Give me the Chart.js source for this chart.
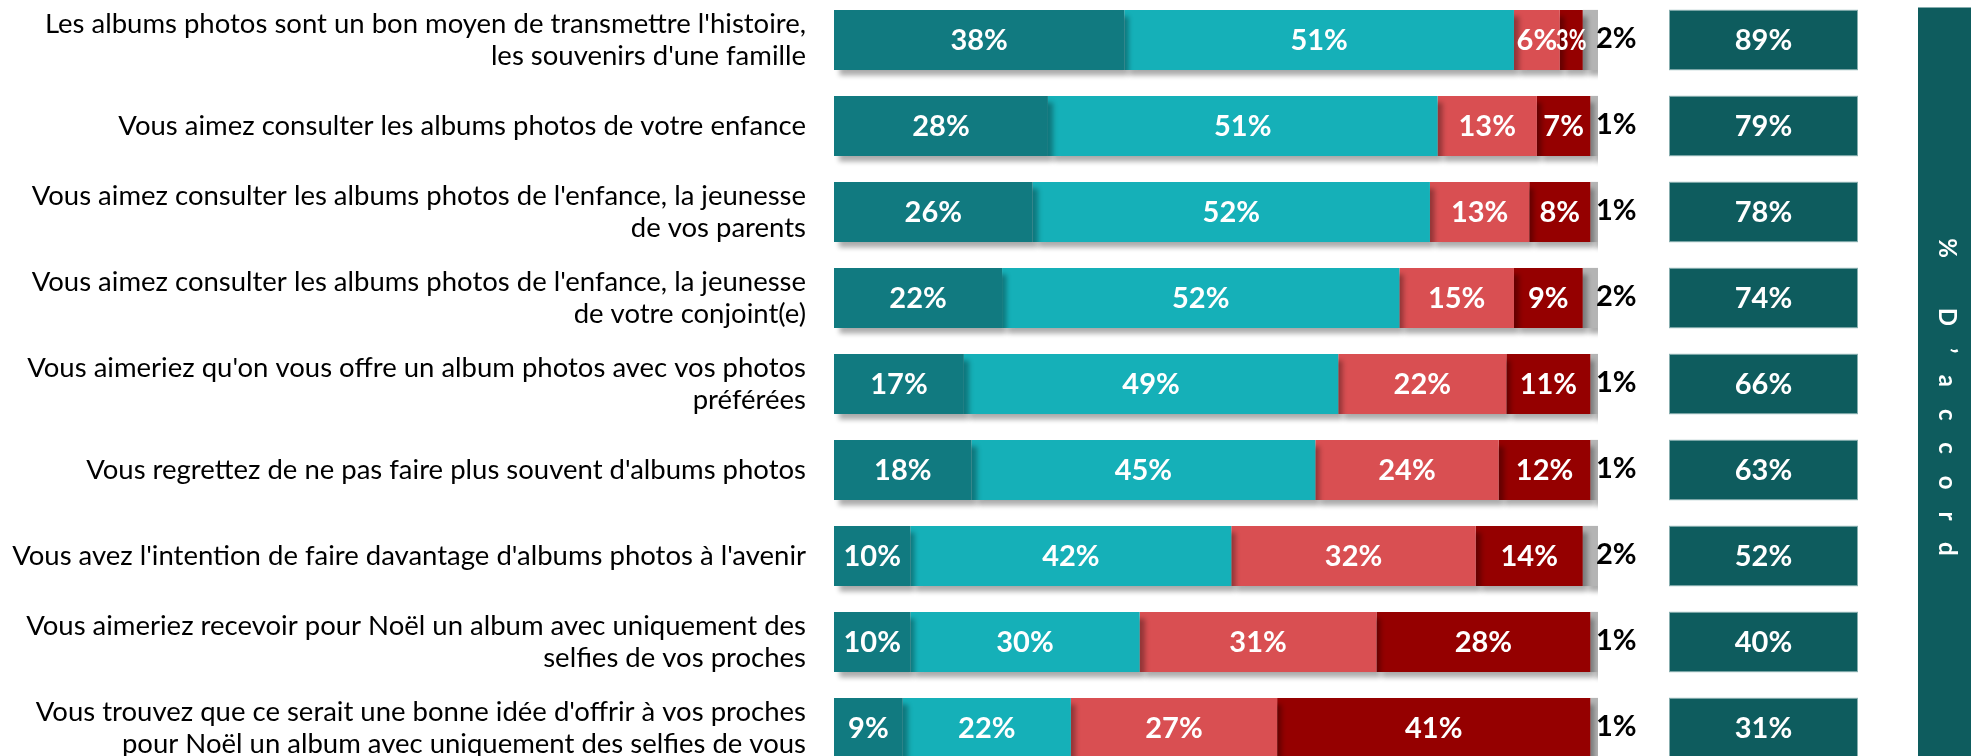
<!DOCTYPE html>
<html>
<head>
<meta charset="utf-8">
<script src="https://cdn.jsdelivr.net/npm/chart.js@4"></script>
<style>
  html, body { margin: 0; padding: 0; background: #fff; overflow: hidden; }
  #wrap { position: relative; width: 1971px; height: 756px; overflow: hidden; }
  #chart { position: absolute; left: 0; top: -3px; }
</style>
</head>
<body>
<div id="wrap"><canvas id="chart" width="1971" height="774"></canvas></div>
<script>
// Questions (rows)
var categories = [
    ["Les albums photos sont un bon moyen de transmettre l'histoire,", "les souvenirs d'une famille"],
    "Vous aimez consulter les albums photos de votre enfance",
    ["Vous aimez consulter les albums photos de l'enfance, la jeunesse", "de vos parents"],
    ["Vous aimez consulter les albums photos de l'enfance, la jeunesse", "de votre conjoint(e)"],
    ["Vous aimeriez qu'on vous offre un album photos avec vos photos", "préférées"],
    "Vous regrettez de ne pas faire plus souvent d'albums photos",
    "Vous avez l'intention de faire davantage d'albums photos à l'avenir",
    ["Vous aimeriez recevoir pour Noël un album avec uniquement des", "selfies de vos proches"],
    ["Vous trouvez que ce serait une bonne idée d'offrir à vos proches", "pour Noël un album avec uniquement des selfies de vous"]
];

// Answers in %
var toutAFait = [38, 28, 26, 22, 17, 18, 10, 10, 9];
var plutotOui = [51, 51, 52, 52, 49, 45, 42, 30, 22];
var plutotNon = [6, 13, 13, 15, 22, 24, 32, 31, 27];
var pasDuTout = [3, 7, 8, 9, 11, 12, 14, 28, 41];
var nsp = [2, 1, 1, 2, 1, 1, 2, 1, 1];
var totalAccord = [89, 79, 78, 74, 66, 63, 52, 40, 31];
var bandTitle = "% D\u2019accord";

var FONT = "Lato, 'Open Sans', sans-serif";
var BOX_COLOR = '#0e5c5e';

// draws shadows under the bars, the value labels, the NSP labels,
// the "% d'accord" column and the side band
var overlayPlugin = {
    id: 'overlay',
    beforeDatasetsDraw: function (chart) {
        var ctx = chart.ctx;
        ctx.save();
        ctx.shadowColor = 'rgba(0,0,0,0.33)';
        ctx.shadowOffsetX = 5;
        ctx.shadowOffsetY = 6;
        ctx.shadowBlur = 5;
    },
    afterDatasetsDraw: function (chart) {
        var ctx = chart.ctx;
        ctx.restore();
        var xScale = chart.scales.x;
        var yScale = chart.scales.y;

        // values inside the bars
        ctx.save();
        ctx.font = 'bold 29px ' + FONT;
        ctx.fillStyle = '#fff';
        ctx.textAlign = 'center';
        ctx.textBaseline = 'middle';
        for (var d = 0; d < 4; d++) {
            var meta = chart.getDatasetMeta(d);
            meta.data.forEach(function (bar, i) {
                var txt = chart.data.datasets[d].data[i] + '%';
                var w = Math.abs(bar.x - bar.base);
                var tw = ctx.measureText(txt).width;
                var sx = tw > w - 2 ? Math.max(0.75, (w - 2) / tw) : 1;
                ctx.save();
                ctx.translate((bar.x + bar.base) / 2, bar.y + 1);
                ctx.scale(sx, 1);
                ctx.fillText(txt, 0, 0);
                ctx.restore();
            });
        }

        // NSP values right of the bars
        ctx.fillStyle = '#000';
        ctx.textAlign = 'left';
        var xEnd = xScale.getPixelForValue(100);
        nsp.forEach(function (v, i) {
            ctx.fillText(v + '%', xEnd - 2, yScale.getPixelForValue(i) - 1);
        });

        // % d'accord boxes
        var barMeta = chart.getDatasetMeta(0);
        ctx.textAlign = 'center';
        totalAccord.forEach(function (v, i) {
            var y = yScale.getPixelForValue(i);
            var h = barMeta.data[i].height;
            ctx.fillStyle = BOX_COLOR;
            ctx.fillRect(1669, y - h / 2, 189, h);
            ctx.strokeStyle = 'rgba(255,255,255,0.5)';
            ctx.lineWidth = 1;
            ctx.strokeRect(1669.5, y - h / 2 + 0.5, 188, h - 1);
            ctx.fillStyle = '#fff';
            ctx.fillText(v + '%', 1669 + 94.5, y + 1);
        });

        // side band
        ctx.fillStyle = BOX_COLOR;
        ctx.fillRect(1918, 10.5, 60, chart.height);
        ctx.translate(1947, 400);
        ctx.rotate(Math.PI / 2);
        ctx.font = 'bold 24px ' + FONT;
        ctx.letterSpacing = '22px';
        ctx.fillStyle = '#fff';
        ctx.textAlign = 'center';
        ctx.fillText(bandTitle, 11, 0);
        ctx.restore();
    }
};

var ctxChart = document.getElementById('chart').getContext('2d');
var chart = new Chart(ctxChart, {
    type: 'bar',
    data: {
        labels: categories,
        datasets: [
            { label: "Tout à fait d'accord", data: toutAFait, backgroundColor: '#117a80' },
            { label: "Plutôt d'accord", data: plutotOui, backgroundColor: '#15b0b8' },
            { label: "Plutôt pas d'accord", data: plutotNon, backgroundColor: '#d94f52' },
            { label: "Pas du tout d'accord", data: pasDuTout, backgroundColor: '#950000' },
            { label: "NSP", data: nsp, backgroundColor: '#b4b4b4' }
        ]
    },
    options: {
        indexAxis: 'y',
        responsive: false,
        animation: false,
        maintainAspectRatio: false,
        layout: { padding: { left: 0, right: 373, top: 0, bottom: 0 } },
        datasets: {
            bar: { barPercentage: 0.70, categoryPercentage: 1.0, borderWidth: 0 }
        },
        scales: {
            x: {
                stacked: true,
                min: 0,
                max: 100,
                display: false
            },
            y: {
                stacked: true,
                grid: { display: false, drawTicks: false },
                border: { display: false },
                ticks: {
                    color: '#000',
                    padding: 28,
                    autoSkip: false,
                    font: { family: FONT, size: 27.5, lineHeight: 1.14 }
                },
                afterFit: function (scale) {
                    scale.width = 834;
                    scale.paddingTop = 0;
                    scale.paddingBottom = 0;
                }
            }
        },
        plugins: {
            legend: { display: false },
            tooltip: { enabled: false }
        }
    },
    plugins: [overlayPlugin]
});
</script>
</body>
</html>
